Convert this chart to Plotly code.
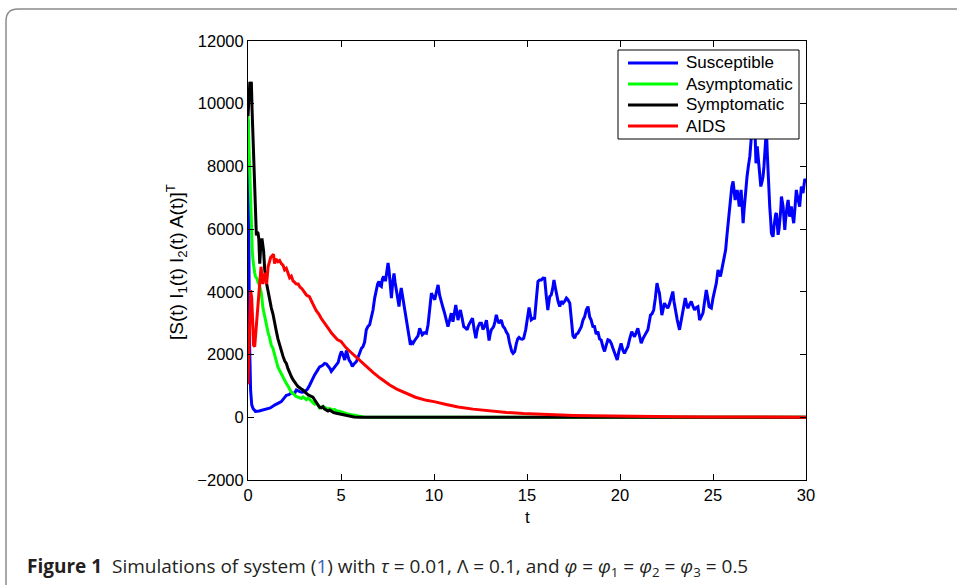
import plotly.graph_objects as go

# ---------------- data ----------------
t_sus = [0, 0.04, 0.08, 0.14, 0.2, 0.27, 0.4, 0.6, 0.9, 1.2, 1.43, 1.6, 1.79, 1.95, 2.06, 2.2, 2.33, 2.5, 2.6, 2.78,
         2.9, 3.05, 3.2, 3.32, 3.45, 3.58, 3.72, 3.85, 4.0, 4.12, 4.22, 4.3, 4.4, 4.48, 4.6, 4.75, 4.85, 4.93, 5.02, 5.1,
         5.2, 5.29, 5.36, 5.43, 5.52, 5.61, 5.7, 5.83, 6.0, 6.1, 6.18, 6.27, 6.36, 6.45, 6.54, 6.63, 6.72, 6.81, 6.9, 6.97,
         7.04, 7.1, 7.17, 7.22, 7.29, 7.35, 7.4, 7.47, 7.53, 7.58, 7.62, 7.67, 7.71, 7.78, 7.85, 7.91, 7.97, 8.05, 8.12, 8.18,
         8.24, 8.3, 8.37, 8.44, 8.51, 8.62, 8.73, 8.8, 8.87, 8.96, 9.05, 9.14, 9.23, 9.3, 9.37, 9.48, 9.59, 9.68, 9.77, 9.86,
         9.95, 10.04, 10.13, 10.22, 10.3, 10.4, 10.48, 10.57, 10.66, 10.75, 10.84, 10.93, 11.02, 11.1, 11.17, 11.23, 11.29, 11.36, 11.42, 11.5,
         11.6, 11.7, 11.78, 11.87, 11.96, 12.07, 12.16, 12.25, 12.31, 12.37, 12.46, 12.55, 12.63, 12.72, 12.82, 12.89, 12.96, 13.02, 13.08, 13.15,
         13.21, 13.28, 13.35, 13.42, 13.49, 13.55, 13.62, 13.71, 13.8, 13.89, 13.98, 14.05, 14.11, 14.18, 14.25, 14.34, 14.43, 14.5, 14.57, 14.66,
         14.75, 14.82, 14.93, 15.02, 15.11, 15.17, 15.23, 15.32, 15.41, 15.5, 15.59, 15.68, 15.77, 15.86, 15.95, 16.03, 16.12, 16.22, 16.3, 16.38,
         16.45, 16.52, 16.58, 16.67, 16.76, 16.85, 16.94, 17.03, 17.12, 17.2, 17.3, 17.38, 17.47, 17.56, 17.65, 17.74, 17.83, 17.92, 18.01, 18.1,
         18.19, 18.28, 18.37, 18.45, 18.54, 18.63, 18.72, 18.81, 18.9, 18.99, 19.08, 19.17, 19.26, 19.35, 19.44, 19.53, 19.62, 19.71, 19.78, 19.85,
         19.94, 20.06, 20.15, 20.24, 20.33, 20.42, 20.52, 20.63, 20.7, 20.78, 20.87, 20.96, 21.05, 21.14, 21.23, 21.32, 21.41, 21.5, 21.57, 21.64,
         21.72, 21.81, 21.9, 21.99, 22.05, 22.12, 22.19, 22.25, 22.32, 22.39, 22.48, 22.57, 22.65, 22.72, 22.78, 22.84, 22.9, 22.97, 23.08, 23.2,
         23.29, 23.38, 23.45, 23.51, 23.58, 23.65, 23.74, 23.83, 23.92, 24.01, 24.1, 24.19, 24.28, 24.37, 24.46, 24.55, 24.64, 24.72, 24.79, 24.85,
         24.91, 25.0, 25.1, 25.18, 25.27, 25.34, 25.4, 25.47, 25.54, 25.61, 25.68, 25.75, 25.81, 25.88, 25.94, 26.01, 26.08, 26.14, 26.19, 26.25,
         26.3, 26.36, 26.41, 26.46, 26.51, 26.57, 26.62, 26.67, 26.71, 26.77, 26.83, 26.9, 26.98, 27.03, 27.07, 27.12, 27.18, 27.25, 27.31, 27.38,
         27.43, 27.48, 27.53, 27.57, 27.63, 27.69, 27.74, 27.78, 27.83, 27.87, 27.92, 27.96, 28.0, 28.05, 28.1, 28.14, 28.19, 28.23, 28.28, 28.32,
         28.37, 28.41, 28.45, 28.5, 28.55, 28.59, 28.64, 28.68, 28.72, 28.77, 28.82, 28.86, 28.9, 28.95, 29.0, 29.04, 29.08, 29.12, 29.17, 29.21,
         29.27, 29.34, 29.41, 29.48, 29.52, 29.57, 29.62, 29.66, 29.7, 29.75, 29.8, 29.84, 29.88, 29.93, 30.0]
susceptible = [9500, 6000, 2500, 870, 400, 280, 190, 200, 240, 300, 390, 430, 500, 620, 700, 720, 780, 760, 870, 820,
               800, 810, 900, 1030, 1200, 1350, 1480, 1610, 1650, 1720, 1700, 1640, 1560, 1460, 1550, 1670, 1750, 1950, 2100, 2000,
               1830, 2130, 1950, 1830, 1750, 1620, 1700, 1780, 2040, 2200, 2250, 2400, 2790, 2900, 2950, 3150, 3420, 3800, 4060, 4250,
               4330, 4200, 4170, 4400, 4490, 4380, 4380, 4700, 4920, 4700, 4380, 4000, 3800, 4300, 4590, 4300, 4060, 3800, 3530, 3900,
               4120, 3900, 3640, 3350, 3100, 2600, 2310, 2400, 2360, 2450, 2520, 2600, 2840, 2700, 2630, 2700, 2680, 2950, 3400, 3960,
               3850, 3750, 4000, 4220, 3900, 3640, 3500, 3320, 3100, 2890, 3100, 3320, 3050, 3300, 3580, 3350, 3100, 3300, 3420, 3200,
               2890, 2850, 2790, 2950, 3050, 3160, 2800, 2520, 2750, 2890, 3000, 3000, 2800, 2900, 3100, 2800, 2450, 2650, 2790, 2840,
               2900, 3050, 3270, 3100, 3000, 3050, 3100, 2900, 2840, 2720, 2630, 2400, 2200, 2100, 2040, 2100, 2360, 2500, 2550, 2500,
               2490, 2520, 2790, 3100, 3500, 3300, 3110, 3150, 3160, 3750, 4330, 4380, 4380, 4440, 4430, 3900, 3420, 3850, 3900, 4100,
               4380, 4150, 3950, 3700, 3530, 3700, 3640, 3700, 3800, 3750, 3640, 3000, 2600, 2520, 2650, 2680, 2790, 2890, 3100, 3210,
               3430, 3530, 3200, 3100, 2900, 2890, 2650, 2730, 2500, 2460, 2250, 2100, 2300, 2470, 2450, 2360, 2200, 2040, 1900, 1830,
               2100, 2360, 2150, 2040, 2150, 2250, 2500, 2730, 2650, 2570, 2700, 2840, 2600, 2360, 2500, 2630, 2700, 2790, 3000, 3260,
               3300, 3420, 3800, 4280, 4100, 3960, 3600, 3260, 3450, 3640, 3550, 3480, 3600, 3740, 3900, 4010, 3700, 3420, 3100, 2790,
               3050, 3320, 3550, 3800, 3600, 3480, 3600, 3690, 3550, 3420, 3500, 3530, 3100, 3200, 3320, 3700, 4060, 3800, 3530, 3500,
               3480, 3800, 4060, 4280, 4700, 4600, 4490, 4700, 4910, 5100, 5340, 5800, 6190, 6700, 7150, 7350, 7520, 7200, 6930, 7100,
               7250, 7000, 6720, 7000, 7250, 6700, 6190, 6600, 6930, 7300, 7680, 8000, 8320, 8700, 9100, 9400, 9000, 9300, 8100, 8640,
               8300, 8000, 7700, 7360, 7500, 7680, 8000, 8320, 8900, 9200, 8400, 7680, 7200, 6720, 6300, 5870, 5800, 5760, 6100, 6400,
               6480, 6510, 6200, 5820, 6000, 6190, 6600, 7040, 6900, 6720, 6300, 5980, 6300, 6620, 6800, 6930, 6700, 6400, 6550, 6720,
               6450, 6190, 6700, 7250, 7100, 6930, 6800, 6720, 7000, 7360, 7250, 7150, 7350, 7570, 7580]

t_asy = [0, 0.03, 0.07, 0.1, 0.14, 0.18, 0.23, 0.27, 0.32, 0.36, 0.4, 0.45, 0.5, 0.54, 0.6, 0.66, 0.72, 0.8, 0.86, 0.92,
         0.99, 1.08, 1.16, 1.25, 1.34, 1.43, 1.52, 1.61, 1.7, 1.79, 1.88, 1.97, 2.06, 2.15, 2.24, 2.33, 2.42, 2.51, 2.6, 2.69,
         2.78, 2.87, 2.96, 3.05, 3.14, 3.23, 3.32, 3.4, 3.49, 3.58, 3.67, 3.76, 3.85, 3.94, 4.03, 4.12, 4.21, 4.3, 4.39, 4.48,
         4.57, 4.66, 4.75, 4.84, 4.93, 5.02, 5.11, 5.2, 5.29, 5.38, 5.47, 5.6, 5.73, 5.86, 6.0, 6.2, 6.5, 7, 30]
asymptomatic = [9600, 9000, 8000, 7200, 6300, 5800, 5300, 5000, 4700, 4600, 4500, 4450, 4400, 4300, 4250, 4100, 3950, 3500, 3300, 3150,
                3000, 2700, 2550, 2300, 2200, 1950, 1800, 1600, 1500, 1350, 1300, 1150, 1080, 1000, 880, 800, 760, 700, 660, 640,
                620, 600, 650, 600, 560, 620, 560, 520, 450, 420, 430, 390, 300, 330, 300, 320, 290, 260, 280, 240,
                230, 250, 210, 200, 190, 170, 150, 140, 110, 100, 80, 60, 45, 30, 20, 10, 5, 0, 0]

t_sym = [0, 0.05, 0.1, 0.15, 0.18, 0.22, 0.27, 0.32, 0.36, 0.41, 0.45, 0.5, 0.54, 0.58, 0.63, 0.68, 0.75, 0.84, 0.9, 0.99,
         1.08, 1.16, 1.25, 1.34, 1.43, 1.52, 1.61, 1.7, 1.79, 1.88, 1.97, 2.06, 2.15, 2.24, 2.33, 2.42, 2.51, 2.6, 2.69, 2.78,
         2.87, 2.96, 3.05, 3.14, 3.23, 3.32, 3.4, 3.49, 3.58, 3.67, 3.76, 3.85, 3.94, 4.03, 4.12, 4.21, 4.3, 4.39, 4.5, 4.6,
         4.75, 4.9, 5.05, 5.2, 5.35, 5.5, 5.7, 6.0, 6.5, 30]
symptomatic = [9600, 10200, 10700, 10500, 10700, 9800, 8900, 7600, 6800, 6000, 5800, 5900, 5870, 5700, 4900, 5400, 5700, 5300, 4700, 4300,
               4000, 3850, 3500, 3300, 2950, 2750, 2500, 2300, 2100, 1950, 1800, 1720, 1550, 1400, 1300, 1200, 1100, 1050, 980, 930,
               900, 870, 800, 760, 720, 700, 680, 640, 560, 480, 420, 320, 300, 340, 260, 230, 200, 230, 180, 150,
               130, 110, 80, 60, 40, 25, 10, 0, 0, 0]

t_aids = [0, 0.05, 0.1, 0.14, 0.2, 0.25, 0.3, 0.36, 0.43, 0.5, 0.56, 0.63, 0.7, 0.75, 0.8, 0.86, 0.93, 1.0, 1.08, 1.15,
          1.22, 1.3, 1.37, 1.43, 1.5, 1.61, 1.7, 1.79, 1.88, 1.97, 2.06, 2.15, 2.24, 2.33, 2.42, 2.51, 2.6, 2.7, 2.8, 2.9,
          3.0, 3.14, 3.3, 3.4, 3.5, 3.67, 3.8, 3.94, 4.1, 4.3, 4.5, 4.66, 4.8, 5.0, 5.25, 5.5, 5.75, 6.0, 6.35, 6.72,
          7.1, 7.62, 8.0, 8.51, 9.0, 9.59, 10.0, 10.66, 11.3, 12.1, 13.0, 13.9, 14.8, 15.7, 16.6, 17.5, 18.5, 20.0, 21.5, 23,
          25, 27, 30]
aids = [1050, 2500, 3600, 4050, 3800, 3000, 2300, 2250, 2800, 3300, 3700, 4300, 4800, 4500, 4250, 4500, 4600, 4250, 4800, 4950,
        5100, 5150, 5200, 4900, 5050, 4960, 5000, 4900, 4850, 4700, 4750, 4600, 4450, 4500, 4350, 4300, 4250, 4250, 4150, 4100,
        4000, 3900, 3850, 3700, 3600, 3400, 3300, 3150, 3000, 2850, 2680, 2580, 2480, 2420, 2230, 2090, 1950, 1830, 1640, 1430,
        1250, 1030, 900, 760, 640, 540, 500, 410, 330, 260, 200, 155, 120, 95, 75, 58, 45, 30, 20, 14,
        9, 5, 3]

series_names = ["Susceptible", "Asymptomatic", "Symptomatic", "AIDS"]
series_colors = ["#0000FF", "#00FF00", "#000000", "#FF0000"]
x_ticks = [0, 5, 10, 15, 20, 25, 30]
x_tick_labels = ["0", "5", "10", "15", "20", "25", "30"]
y_ticks = [-2000, 0, 2000, 4000, 6000, 8000, 10000, 12000]
y_tick_labels = ["\u22122000", "0", "2000", "4000", "6000", "8000", "10000", "12000"]

# ---------------- figure ----------------
W, H = 957, 585
L, R, T, B = 248, 151, 41, 105
pw, ph = W - L - R, H - T - B


def px(x):
    return (x - L) / pw


def py(y):
    return (H - B - y) / ph


fig = go.Figure()
for name, tx, vals, col in zip(series_names, [t_sus, t_asy, t_sym, t_aids],
                               [susceptible, asymptomatic, symptomatic, aids], series_colors):
    fig.add_trace(go.Scatter(x=tx, y=vals, mode="lines", name=name,
                             line=dict(color=col, width=3)))

FONT = "Liberation Sans, Arial, Helvetica, sans-serif"
axis_font = dict(family=FONT, size=16.5, color="#000000")
fig.update_layout(
    width=W, height=H,
    margin=dict(l=L, r=R, t=T, b=B),
    paper_bgcolor="white", plot_bgcolor="white",
    font=axis_font,
    showlegend=False,
    xaxis=dict(range=[0, 30], tickvals=x_ticks, ticktext=x_tick_labels, ticks="inside", ticklen=6, tickcolor="#000",
               showline=True, linecolor="#000", linewidth=1, mirror="ticks",
               showgrid=False, zeroline=False, tickfont=axis_font),
    yaxis=dict(range=[-2000, 12000], tickvals=y_ticks, ticktext=y_tick_labels, ticks="inside", ticklen=6,
               tickcolor="#000", showline=True, linecolor="#000", linewidth=1, mirror="ticks",
               showgrid=False, zeroline=False, tickfont=axis_font),
)

ylabel = "[S(t) I<sub>1</sub>(t) I<sub>2</sub>(t) A(t)]<sup>T</sup>"
annotations = [
    dict(text=ylabel, xref="paper", yref="paper",
         x=px(176), y=py(262), xanchor="center", yanchor="middle", textangle=-90, showarrow=False,
         font=dict(family=FONT, size=19, color="#000")),
    dict(text="t", xref="paper", yref="paper", x=0.5, y=py(517), xanchor="center", yanchor="middle",
         showarrow=False, font=dict(family=FONT, size=17, color="#000")),
    dict(text=("<b>Figure 1</b>  Simulations of system (<span style='color:#3b5fc0'>1</span>) with "
               "<i>τ</i> = 0.01, Λ = 0.1, and <i>φ</i> = <i>φ</i><sub>1</sub> = <i>φ</i><sub>2</sub> = "
               "<i>φ</i><sub>3</sub> = 0.5"),
         xref="paper", yref="paper", x=px(25), y=py(567), xanchor="left", yanchor="middle",
         showarrow=False, font=dict(family="Open Sans, Noto Sans, sans-serif", size=19, color="#231f20")),
]

# legend box drawn in the MATLAB style (box, 50 px line samples, labels)
shapes = []
shapes.append(dict(type="rect", xref="paper", yref="paper", x0=px(618), x1=px(799), y0=py(139), y1=py(50),
                   fillcolor="white", line=dict(color="#000", width=1), layer="above"))
entry_y = [63, 84, 105, 126]
for name, col, yy in zip(series_names, series_colors, entry_y):
    shapes.append(dict(type="line", xref="paper", yref="paper", x0=px(628), x1=px(678), y0=py(yy), y1=py(yy),
                       line=dict(color=col, width=3), layer="above"))
    annotations.append(dict(text=name, xref="paper", yref="paper", x=px(684), y=py(yy), xanchor="left",
                            yanchor="middle", showarrow=False, font=dict(family=FONT, size=17, color="#000")))

# rounded frame around the figure (top-left corner visible, rest runs off the page)
r = 12
path = (f"M {px(6)},{py(600)} L {px(6)},{py(9 + r)} "
        f"Q {px(6)},{py(9)} {px(6 + r)},{py(9)} L {px(980)},{py(9)}")
shapes.append(dict(type="path", xref="paper", yref="paper", path=path,
                   line=dict(color="#8c8c8c", width=1.5), layer="below"))

fig.update_layout(annotations=annotations, shapes=shapes)

fig.write_html("out.html")
